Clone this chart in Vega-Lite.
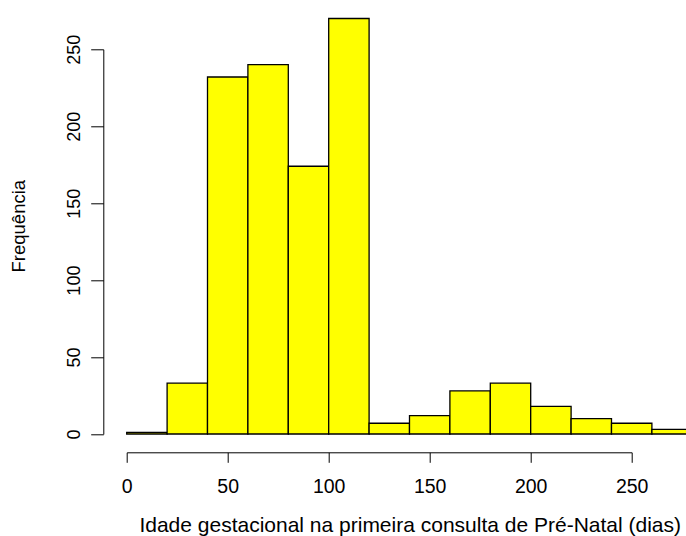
{
  "$schema": "https://vega.github.io/schema/vega-lite/v6.json",
  "width": 505,
  "height": 384.7,
  "autosize": "none",
  "padding": {"left": 126.7, "top": 49.3, "right": 54.3, "bottom": 102},
  "background": "#ffffff",
  "config": {"view": {"stroke": null}, "font": "Liberation Sans"},
  "data": {
    "values": [
      {"start": 0, "end": 20, "count": 1},
      {"start": 20, "end": 40, "count": 33},
      {"start": 40, "end": 60, "count": 232},
      {"start": 60, "end": 80, "count": 240},
      {"start": 80, "end": 100, "count": 174},
      {"start": 100, "end": 120, "count": 270},
      {"start": 120, "end": 140, "count": 7},
      {"start": 140, "end": 160, "count": 12},
      {"start": 160, "end": 180, "count": 28},
      {"start": 180, "end": 200, "count": 33},
      {"start": 200, "end": 220, "count": 18},
      {"start": 220, "end": 240, "count": 10},
      {"start": 240, "end": 260, "count": 7},
      {"start": 260, "end": 280, "count": 3}
    ]
  },
  "mark": {"type": "bar", "fill": "#FFFF00", "stroke": "#000000", "strokeWidth": 1.3},
  "encoding": {
    "x": {
      "field": "start",
      "type": "quantitative",
      "scale": {"domain": [0, 250], "nice": false, "zero": false},
      "axis": {
        "title": "Idade gestacional na primeira consulta de Pré-Natal (dias)",
        "values": [0, 50, 100, 150, 200, 250],
        "offset": 18.3,
        "grid": false,
        "domainColor": "#000000",
        "domainWidth": 1,
        "tickColor": "#000000",
        "tickWidth": 1,
        "tickSize": 10,
        "labelFontSize": 19.5,
        "labelColor": "#000000",
        "labelBaseline": "alphabetic",
        "labelPadding": 30.4,
        "labelFlush": false,
        "labelOverlap": false,
        "titleFontSize": 21,
        "titleFontWeight": "normal",
        "titleColor": "#000000",
        "titleX": 283,
        "titleY": 79.5,
        "titleAlign": "center",
        "titleBaseline": "alphabetic"
      }
    },
    "x2": {"field": "end"},
    "y": {
      "field": "count",
      "type": "quantitative",
      "scale": {"domain": [0, 250], "nice": false},
      "axis": {
        "title": "Frequência",
        "values": [0, 50, 100, 150, 200, 250],
        "offset": 23.4,
        "grid": false,
        "domainColor": "#000000",
        "domainWidth": 1,
        "tickColor": "#000000",
        "tickWidth": 1,
        "tickSize": 12.6,
        "labelAngle": 270,
        "labelAlign": "center",
        "labelBaseline": "alphabetic",
        "labelPadding": 11.7,
        "labelFontSize": 18,
        "labelColor": "#000000",
        "labelFlush": false,
        "labelOverlap": false,
        "titleFontSize": 18.5,
        "titleFontWeight": "normal",
        "titleColor": "#000000",
        "titleAngle": 270,
        "titleX": -78.4,
        "titleY": 176.4,
        "titleAlign": "center",
        "titleBaseline": "alphabetic"
      }
    },
    "y2": {"datum": 0}
  }
}
